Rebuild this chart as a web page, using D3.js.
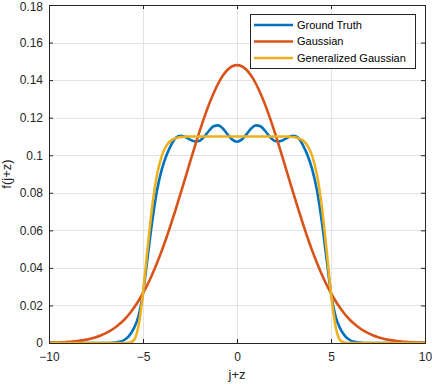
<!DOCTYPE html>
<html><head><meta charset="utf-8">
<script src="https://cdn.jsdelivr.net/npm/d3@7"></script>
<style>body{margin:0;background:#fff}svg{display:block}</style>
</head><body>
<script>
// x positions (shared)
const xs = [-10,-9.75,-9.5,-9.25,-9,-8.75,-8.5,-8.25,-8,-7.75,-7.5,-7.25,-7,-6.75,-6.5,-6.25,-6,-5.75,-5.5,-5.25,-5,-4.75,-4.5,-4.25,-4,-3.75,-3.5,-3.25,-3,-2.75,-2.5,-2.25,-2,-1.75,-1.5,-1.25,-1,-0.75,-0.5,-0.25,0,0.25,0.5,0.75,1,1.25,1.5,1.75,2,2.25,2.5,2.75,3,3.25,3.5,3.75,4,4.25,4.5,4.75,5,5.25,5.5,5.75,6,6.25,6.5,6.75,7,7.25,7.5,7.75,8,8.25,8.5,8.75,9,9.25,9.5,9.75,10];
const groundTruth = [0,0,0,0,0,0,0,0,0,0,0,0,0,0,0.0002,0.0006,0.0016,0.0037,0.0075,0.0140,0.0265,0.0460,0.0655,0.0815,0.0925,0.1000,0.1055,0.1093,0.1104,0.1097,0.1083,0.1074,0.1076,0.1098,0.1129,0.1154,0.1159,0.1142,0.1111,0.1083,0.1072,0.1083,0.1111,0.1142,0.1159,0.1154,0.1129,0.1098,0.1076,0.1074,0.1083,0.1097,0.1104,0.1093,0.1055,0.1000,0.0925,0.0815,0.0655,0.0460,0.0265,0.0140,0.0075,0.0037,0.0016,0.0006,0.0002,0,0,0,0,0,0,0,0,0,0,0,0,0,0];
const gaussian = [0.0002,0.0002,0.0003,0.0004,0.0006,0.0008,0.0010,0.0014,0.0018,0.0024,0.0031,0.0040,0.0051,0.0064,0.0081,0.0101,0.0124,0.0152,0.0185,0.0222,0.0265,0.0313,0.0367,0.0427,0.0492,0.0562,0.0637,0.0715,0.0797,0.0879,0.0963,0.1045,0.1124,0.1199,0.1268,0.1329,0.1382,0.1424,0.1455,0.1474,0.1480,0.1474,0.1455,0.1424,0.1382,0.1329,0.1268,0.1199,0.1124,0.1045,0.0963,0.0879,0.0797,0.0715,0.0637,0.0562,0.0492,0.0427,0.0367,0.0313,0.0265,0.0222,0.0185,0.0152,0.0124,0.0101,0.0081,0.0064,0.0051,0.0040,0.0031,0.0024,0.0018,0.0014,0.0010,0.0008,0.0006,0.0004,0.0003,0.0002,0.0002];
const generalized = [0,0,0,0,0,0,0,0,0,0,0,0,0,0,0,0,0,0.0001,0.0013,0.0085,0.0265,0.0510,0.0736,0.0898,0.0997,0.1051,0.1079,0.1091,0.1097,0.1099,0.1100,0.1100,0.1100,0.1100,0.1100,0.1100,0.1100,0.1100,0.1100,0.1100,0.1100,0.1100,0.1100,0.1100,0.1100,0.1100,0.1100,0.1100,0.1100,0.1100,0.1100,0.1099,0.1097,0.1091,0.1079,0.1051,0.0997,0.0898,0.0736,0.0510,0.0265,0.0085,0.0013,0.0001,0,0,0,0,0,0,0,0,0,0,0,0,0,0,0,0,0];
const seriesNames = ["Ground Truth","Gaussian","Generalized Gaussian"];
const seriesColors = ["#0072BD","#D95319","#EDB120"];
const xTicks = [-10,-5,0,5,10];
const yTicks = [0,0.02,0.04,0.06,0.08,0.1,0.12,0.14,0.16,0.18];
const xLabel = "j+z", yLabel = "f(j+z)";

const W = 432, H = 384;
const L = 49, R = 425, T = 5, B = 343;
const svg = d3.select("body").append("svg").attr("width", W).attr("height", H)
  .style("font-family", "'Liberation Sans', Arial, Helvetica, sans-serif");
const x = d3.scaleLinear().domain([-10,10]).range([L,R]);
const y = d3.scaleLinear().domain([0,0.18]).range([B,T]);

// grid
const g = svg.append("g");
g.selectAll(".gx").data(xTicks).join("line")
  .attr("x1", d=>Math.round(x(d))+0.5).attr("x2", d=>Math.round(x(d))+0.5)
  .attr("y1", T).attr("y2", B).attr("stroke", "#e3e3e3").attr("stroke-width", 1);
g.selectAll(".gy").data(yTicks).join("line")
  .attr("y1", d=>Math.round(y(d))+0.5).attr("y2", d=>Math.round(y(d))+0.5)
  .attr("x1", L).attr("x2", R).attr("stroke", "#e3e3e3").attr("stroke-width", 1);

// lines
svg.append("clipPath").attr("id","clip").append("rect").attr("x",L).attr("y",T-3).attr("width",R-L).attr("height",B-T+3);
const line = d3.line().x((d,i)=>x(xs[i])).y(d=>y(d)).curve(d3.curveMonotoneX);
[groundTruth, gaussian, generalized].forEach((s,k)=>{
  svg.append("path").datum(s).attr("d", line).attr("fill","none")
    .attr("stroke", seriesColors[k]).attr("stroke-width", 2.6)
    .attr("stroke-linejoin","round").attr("clip-path","url(#clip)");
});

// axes
const axCol = "#262626";
const xb = svg.append("g").attr("transform", `translate(0,${B})`)
  .call(d3.axisBottom(x).tickValues(xTicks).tickSize(-4).tickPadding(9).tickFormat(d3.format("d")));
const xt = svg.append("g").attr("transform", `translate(0,${T})`)
  .call(d3.axisTop(x).tickValues(xTicks).tickSize(-4).tickFormat(""));
const yl = svg.append("g").attr("transform", `translate(${L},0)`)
  .call(d3.axisLeft(y).tickValues(yTicks).tickSize(-4).tickPadding(6).tickFormat(d=>d===0?"0":d3.format(".2f")(d).replace(/0$/,"")));
const yr = svg.append("g").attr("transform", `translate(${R},0)`)
  .call(d3.axisRight(y).tickValues(yTicks).tickSize(-4).tickFormat(""));
[xb,xt,yl,yr].forEach(a=>{
  a.select(".domain").attr("stroke", axCol).attr("stroke-width",1);
  a.selectAll(".tick line").attr("stroke", axCol);
  a.selectAll("text").attr("fill", axCol).style("font-size","12px").style("font-family","'Liberation Sans', Arial, sans-serif");
});
xb.selectAll(".tick text").attr("dy","0.71em");
yl.selectAll(".tick text").filter(d=>d===0.18).attr("dy","0.42em");

// axis labels
svg.append("text").attr("x", (L+R)/2).attr("y", 379).attr("text-anchor","middle")
  .attr("fill", axCol).style("font-size","13px").text(xLabel);
svg.append("text").attr("transform", `translate(11,${(T+B)/2}) rotate(-90)`).attr("text-anchor","middle")
  .attr("fill", axCol).style("font-size","13px").text(yLabel);

// legend
const lg = svg.append("g");
lg.append("rect").attr("x",250.5).attr("y",14.5).attr("width",165).attr("height",54)
  .attr("fill","#fff").attr("stroke", axCol).attr("stroke-width",1);
const rowsY = [25, 41.5, 58];
seriesNames.forEach((n,i)=>{
  lg.append("line").attr("x1",254).attr("x2",293).attr("y1",rowsY[i]).attr("y2",rowsY[i])
    .attr("stroke", seriesColors[i]).attr("stroke-width",2.6);
  lg.append("text").attr("x",297).attr("y",rowsY[i]).attr("dy","0.35em")
    .attr("fill", "#000").style("font-size","11px").text(n);
});
</script>
</body></html>
